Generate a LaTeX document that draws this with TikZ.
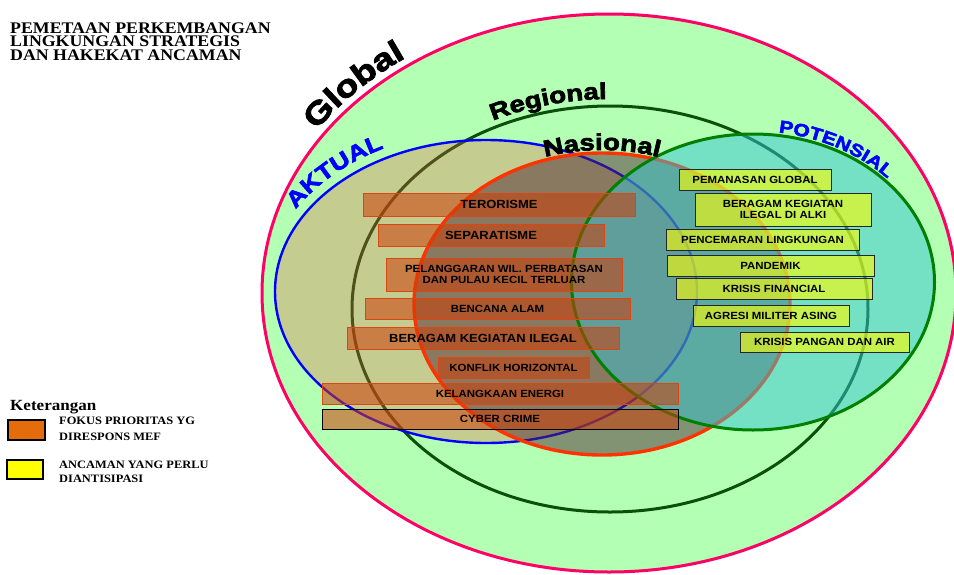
\documentclass[tikz,border=0pt]{standalone}
\usepackage{fontspec}
\usetikzlibrary{decorations.text}
\newfontfamily\hv{Liberation Sans}[FakeStretch=1.1]
\newfontfamily\tm{Liberation Serif}[FakeStretch=1.1]
\newfontfamily\wafont{Liberation Sans Bold}[FakeStretch=1.2,FakeBold=3]
\definecolor{globalfill}{RGB}{179,255,179}
\definecolor{pinkc}{RGB}{255,0,102}
\definecolor{regc}{RGB}{10,80,10}
\definecolor{aktfill}{RGB}{236,88,66}
\definecolor{aktline}{RGB}{0,0,255}
\definecolor{nasfill}{RGB}{80,40,50}
\definecolor{nasline}{RGB}{255,51,0}
\definecolor{potfill}{RGB}{55,195,213}
\definecolor{potline}{RGB}{0,128,0}
\definecolor{boxorange}{RGB}{205,62,9}
\definecolor{orangeedge}{RGB}{220,70,20}
\definecolor{legorange}{RGB}{228,108,10}
\definecolor{legyellow}{RGB}{255,255,0}
\definecolor{waBlue}{RGB}{0,0,255}
\begin{document}
\begin{tikzpicture}[x=1pt,y=-1pt,
  lbox/.style={draw=orangeedge,line width=0.8pt,fill=boxorange,fill opacity=0.55,text opacity=1,
    inner sep=0pt,align=center,font=\hv\bfseries\fontsize{10.4}{10.4}\selectfont},
  lbig/.style={lbox,font=\hv\bfseries\fontsize{11.8}{12}\selectfont},
  rbox/.style={draw=black!85,line width=0.8pt,fill=legyellow,fill opacity=0.6,text opacity=1,
    inner sep=0pt,align=center,font=\hv\bfseries\fontsize{10.4}{10.7}\selectfont},
  titletext/.style={anchor=base west,inner sep=0pt,font=\tm\bfseries\fontsize{16.2}{16}\selectfont},
  legtext/.style={anchor=base west,inner sep=0pt,font=\tm\bfseries\fontsize{11.3}{11.3}\selectfont},
  legbox/.style={draw=black,line width=1.8pt,inner sep=0pt},
  wordart/.style={decorate,decoration={text along path,text align=center,text={#1}}}
]
\useasboundingbox (0,0) rectangle (954,574);
\fill[white] (0,0) rectangle (954,574);

% circles
\filldraw[fill=globalfill,draw=pinkc,line width=3pt] (609,293) ellipse [x radius=347,y radius=279];
\draw[regc,line width=3pt] (610,309) ellipse [x radius=258,y radius=203];
\filldraw[fill=aktfill,fill opacity=0.3,draw=aktline,line width=2.4pt] (486,291.5) ellipse [x radius=211,y radius=151.5];
\filldraw[fill=nasfill,fill opacity=0.5,draw=nasline,line width=3.4pt] (602,304) ellipse [x radius=188,y radius=151];
\filldraw[fill=potfill,fill opacity=0.5,draw=potline,line width=3pt] (753,282) ellipse [x radius=181.5,y radius=148];

% left boxes
\node[lbig,minimum width=272pt,minimum height=23pt] (ter) at (499,204.5) {TERORISME};
\node[lbig,minimum width=226pt,minimum height=22pt] (sep) at (491,235) {SEPARATISME};
\node[lbox,minimum width=236pt,minimum height=33pt] (pel) at (504,274.5) {PELANGGARAN WIL. PERBATASAN\\DAN PULAU KECIL TERLUAR};
\node[lbox,minimum width=265pt,minimum height=21pt] (ben) at (497.5,308.5) {BENCANA ALAM};
\node[lbig,minimum width=272pt,minimum height=22pt] (ber) at (483,338) {BERAGAM KEGIATAN ILEGAL};
\node[lbox,minimum width=151pt,minimum height=21pt] (kon) at (513.5,367.5) {KONFLIK HORIZONTAL};
\node[lbox,minimum width=356pt,minimum height=21pt] (kel) at (500,393.5) {KELANGKAAN ENERGI};
\node[lbox,draw=black,minimum width=356pt,minimum height=20pt] (cyb) at (500,419) {CYBER CRIME};

% right boxes
\node[rbox,minimum width=152pt,minimum height=21pt] (pem) at (755,179.5) {PEMANASAN GLOBAL};
\node[rbox,minimum width=176pt,minimum height=33pt] (alki) at (783,209.5) {BERAGAM KEGIATAN\\ILEGAL DI ALKI};
\node[rbox,minimum width=193pt,minimum height=21pt] (pen) at (762.5,239.5) {PENCEMARAN LINGKUNGAN};
\node[rbox,minimum width=207pt,minimum height=21pt] (pan) at (770.5,265.5) {PANDEMIK};
\node[rbox,minimum width=196pt,minimum height=21pt] (kri) at (774,288.5) {KRISIS FINANCIAL};
\node[rbox,minimum width=156pt,minimum height=21pt] (agr) at (771,315.5) {AGRESI MILITER ASING};
\node[rbox,minimum width=169pt,minimum height=20pt] (kpa) at (824.5,342) {KRISIS PANGAN DAN AIR};

% curved labels
\path[wordart={|\wafont\fontsize{31}{31}\selectfont|Global}]
  ([shift={(200:355 and 287)}]609,293) arc[start angle=200,end angle=248,x radius=355,y radius=287];
\path[wordart={|\wafont\fontsize{23}{23}\selectfont|Regional}]
  ([shift={(226:265 and 210)}]610,309) arc[start angle=226,end angle=286,x radius=265,y radius=210];
\path[wordart={|\wafont\fontsize{23}{23}\selectfont|Nasional}]
  ([shift={(235:191 and 154)}]602,304) arc[start angle=235,end angle=305,x radius=191,y radius=154];
\path[wordart={|\wafont\fontsize{22}{22}\selectfont\color{waBlue}|AKTUAL}]
  ([shift={(195:221 and 161.5)}]486,291.5) arc[start angle=195,end angle=255,x radius=221,y radius=161.5];
\path[wordart={|\wafont\fontsize{17.5}{17.5}\selectfont\color{waBlue}|POTENSIAL}]
  ([shift={(268:184.5 and 151)}]753,282) arc[start angle=268,end angle=328,x radius=184.5,y radius=151];

% title
\node[titletext] (t1) at (10,33.3) {PEMETAAN PERKEMBANGAN};
\node[titletext] (t2) at (10,46.7) {LINGKUNGAN STRATEGIS};
\node[titletext] (t3) at (10,60) {DAN HAKEKAT ANCAMAN};

% legend
\node[anchor=base west,inner sep=0pt,font=\tm\bfseries\fontsize{15.5}{15.5}\selectfont] (ket) at (10,410) {Keterangan};
\node[legbox,fill=legorange,minimum width=37pt,minimum height=20pt] (lgo) at (26.5,430) {};
\node[legbox,fill=legyellow,minimum width=36pt,minimum height=19pt] (lgy) at (25,469.5) {};
\node[legtext] (l1) at (59,424.3) {FOKUS PRIORITAS YG};
\node[legtext] (l2) at (59,440) {DIRESPONS MEF};
\node[legtext] (l3) at (59,468.3) {ANCAMAN YANG PERLU};
\node[legtext] (l4) at (59,482.7) {DIANTISIPASI};
\end{tikzpicture}
\end{document}
